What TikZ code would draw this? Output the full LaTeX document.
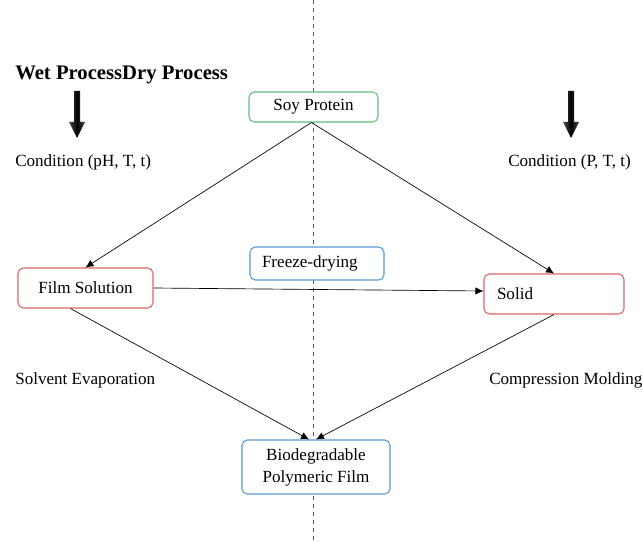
\documentclass[tikz,border=0pt]{standalone}
\usepackage{fontspec}
\setmainfont{Liberation Serif}
\usepackage{xcolor}
\usetikzlibrary{arrows, arrows.meta}
\usetikzlibrary{positioning}
\usetikzlibrary{calc}

\definecolor{soygreen}{RGB}{98,190,125}
\definecolor{filmred}{RGB}{222,100,104}
\definecolor{dryblue}{RGB}{88,155,213}

\tikzset{
	procbox/.style={draw, rounded corners=4pt, fill=white, line width=0.8pt, font=\fontsize{12.8}{16.5}\selectfont},
	proclabel/.style={anchor=west, inner sep=0pt, font=\fontsize{12.8}{15}\selectfont},
	flow/.style={-{Latex[length=6pt,width=5.5pt]}, line width=0.5pt}
}

\begin{document}
\begin{tikzpicture}[x=0.75pt,y=0.75pt,yscale=-1,xscale=1]
		\useasboundingbox (0,0) rectangle (643,542);
		
		%Straight Lines [id:divider]
		\draw [dashed, gray!70!black, line width=0.6pt] (313,0) -- (313,542);
		
		%Titles
		\node [proclabel, font=\fontsize{15.5}{18}\selectfont\bfseries] (title) at (15,75) {Wet ProcessDry Process};
		\node [proclabel] (condwet) at (15,162) {Condition (pH, T, t)};
		\node [proclabel] (conddry) at (508,162) {Condition (P, T, t)};
		\node [proclabel] (solvent) at (15,380) {Solvent Evaporation};
		\node [proclabel] (compress) at (489,380) {Compression Molding};
		
		%Shape: Arrow [id:wetarrow]
		\shade [left color=gray!60!black, right color=gray!60!black, middle color=black] (74,91) -- (80,91) -- (80,122) -- (85,122) -- (77,138) -- (69,122) -- (74,122) -- cycle ;
		%Shape: Arrow [id:dryarrow]
		\shade [left color=gray!60!black, right color=gray!60!black, middle color=black] (568,91) -- (574,91) -- (574,122) -- (579,122) -- (571,138) -- (563,122) -- (568,122) -- cycle ;
		
		%Boxes
		\node [procbox, draw=soygreen, minimum width=96.75pt, minimum height=22.5pt] (soy) at (313.5,107) {Soy Protein};
		\node [procbox, draw=filmred, minimum width=101.25pt, minimum height=30pt] (film) at (85.5,288) {Film Solution};
		\node [procbox, draw=dryblue, text width=82.5pt, inner xsep=9pt, minimum height=24.75pt, align=left] (freeze) at (317,263.5) {Freeze-drying};
		\node [procbox, draw=filmred, text width=85.5pt, inner xsep=9.75pt, minimum height=30pt, align=left] (solid) at (554,294) {Solid};
		\node [procbox, draw=dryblue, minimum width=111pt, minimum height=40.5pt, align=center] (bio) at (316,467) {Biodegradable\\Polymeric Film};
		
		%Connectors
		\draw [flow] ($(soy.south)+(-2,0)$) -- (film.north);
		\draw [flow] ($(soy.south)+(-2,0)$) -- (solid.north);
		\draw [flow] (film.east) -- ($(solid.west)+(0,-3)$);
		\draw [flow] ($(film.south)+(-15,0)$) -- ($(bio.north)+(-7,0)$);
		\draw [flow] (solid.south) -- ($(bio.north)+(0,0)$);
		
	\end{tikzpicture}
\end{document}
